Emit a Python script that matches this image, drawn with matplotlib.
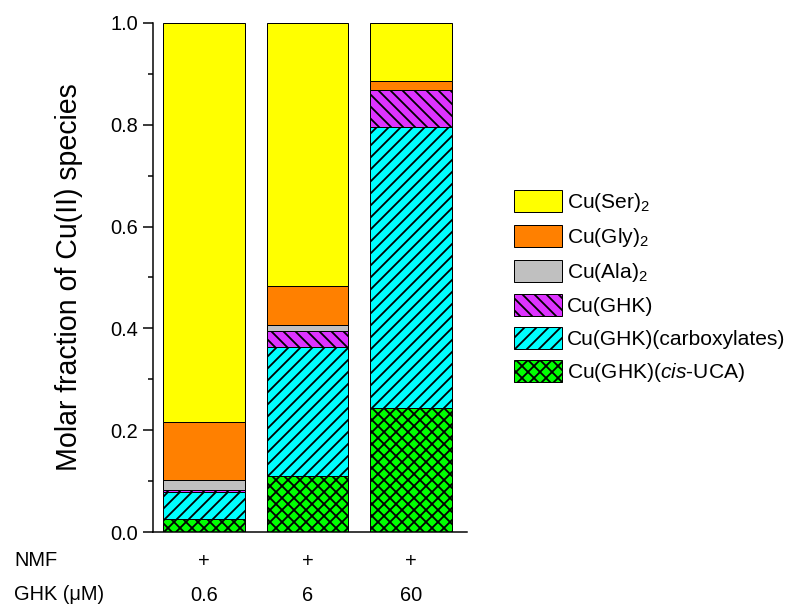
import matplotlib
matplotlib.use("Agg")
import matplotlib.pyplot as plt
import numpy as np

plt.rcParams["font.family"] = ["Liberation Sans", "DejaVu Sans"]
plt.rcParams["mathtext.fontset"] = "custom"
plt.rcParams["mathtext.rm"] = "Liberation Sans"
plt.rcParams["mathtext.it"] = "Liberation Sans:italic"
plt.rcParams["hatch.linewidth"] = 1.8

ghk = ["0.6", "6", "60"]
nmf = ["+", "+", "+"]

# molar fractions, stacked from the bottom up
cis_uca = [0.026, 0.110, 0.243]
carboxylates = [0.053, 0.254, 0.553]
cu_ghk = [0.004, 0.031, 0.072]
cu_ala = [0.020, 0.012, 0.001]
cu_gly = [0.114, 0.077, 0.018]
cu_ser = [0.783, 0.516, 0.113]

series = [
    (cis_uca, "#00FF00", "xx", "Cu(GHK)($\\it{cis}$-UCA)"),
    (carboxylates, "#00FFFF", "//", "Cu(GHK)(carboxylates)"),
    (cu_ghk, "#DD33FF", "\\\\", "Cu(GHK)"),
    (cu_ala, "#C0C0C0", "", "Cu(Ala)$_2$"),
    (cu_gly, "#FF8000", "", "Cu(Gly)$_2$"),
    (cu_ser, "#FFFF00", "", "Cu(Ser)$_2$"),
]

dpi = 72
fig = plt.figure(figsize=(789 / dpi, 606 / dpi), dpi=dpi)
ax = fig.add_axes([153 / 789, 1 - 532 / 606, 314 / 789, 509 / 606])

x = np.arange(len(ghk))
bottom = np.zeros(len(ghk))
handles = []
for vals, color, hatch, label in series:
    b = ax.bar(x, vals, 0.79, bottom=bottom, color=color, edgecolor="black",
               linewidth=1, hatch=hatch, label=label)
    handles.append(b)
    bottom += np.array(vals)

ax.set_xlim(-0.493, 2.541)
ax.set_ylim(0, 1.0)
ax.set_yticks([0, 0.2, 0.4, 0.6, 0.8, 1.0])
ax.set_yticks(np.arange(0.1, 1.0, 0.2), minor=True)
ax.set_yticklabels(["0.0", "0.2", "0.4", "0.6", "0.8", "1.0"])
ax.set_xticks([])
ax.tick_params(axis="y", which="major", direction="out", length=10, width=1.5,
               labelsize=20, pad=5)
ax.tick_params(axis="y", which="minor", direction="out", length=5, width=1.5)
for side in ["top", "right"]:
    ax.spines[side].set_visible(False)
for side in ["left", "bottom"]:
    ax.spines[side].set_linewidth(1.5)

fig.text(69 / 789, 1 - 277 / 606, "Molar fraction of Cu(II) species",
         rotation=90, ha="center", va="center", fontsize=28.5)

# condition rows under the bars
for xi, n, g in zip(x, nmf, ghk):
    ax.text(xi, -0.058, n, transform=ax.get_xaxis_transform(),
            ha="center", va="center", fontsize=20)
    ax.text(xi, -0.124, g, transform=ax.get_xaxis_transform(),
            ha="center", va="center", fontsize=20)
fig.text(14 / 789, 1 - 560 / 606, "NMF", ha="left", va="center", fontsize=20)
fig.text(14 / 789, 1 - 595 / 606, "GHK (\u03bcM)", ha="left", va="center",
         fontsize=20)

fig.legend(handles[::-1], [s[3] for s in series[::-1]],
           loc="center left", bbox_to_anchor=(503 / 789, 1 - 287 / 606),
           frameon=False, fontsize=21, handlelength=2.3, handleheight=1.25,
           handletextpad=0.25, labelspacing=0.5, borderpad=0)

fig.savefig("out.png", dpi=dpi)
